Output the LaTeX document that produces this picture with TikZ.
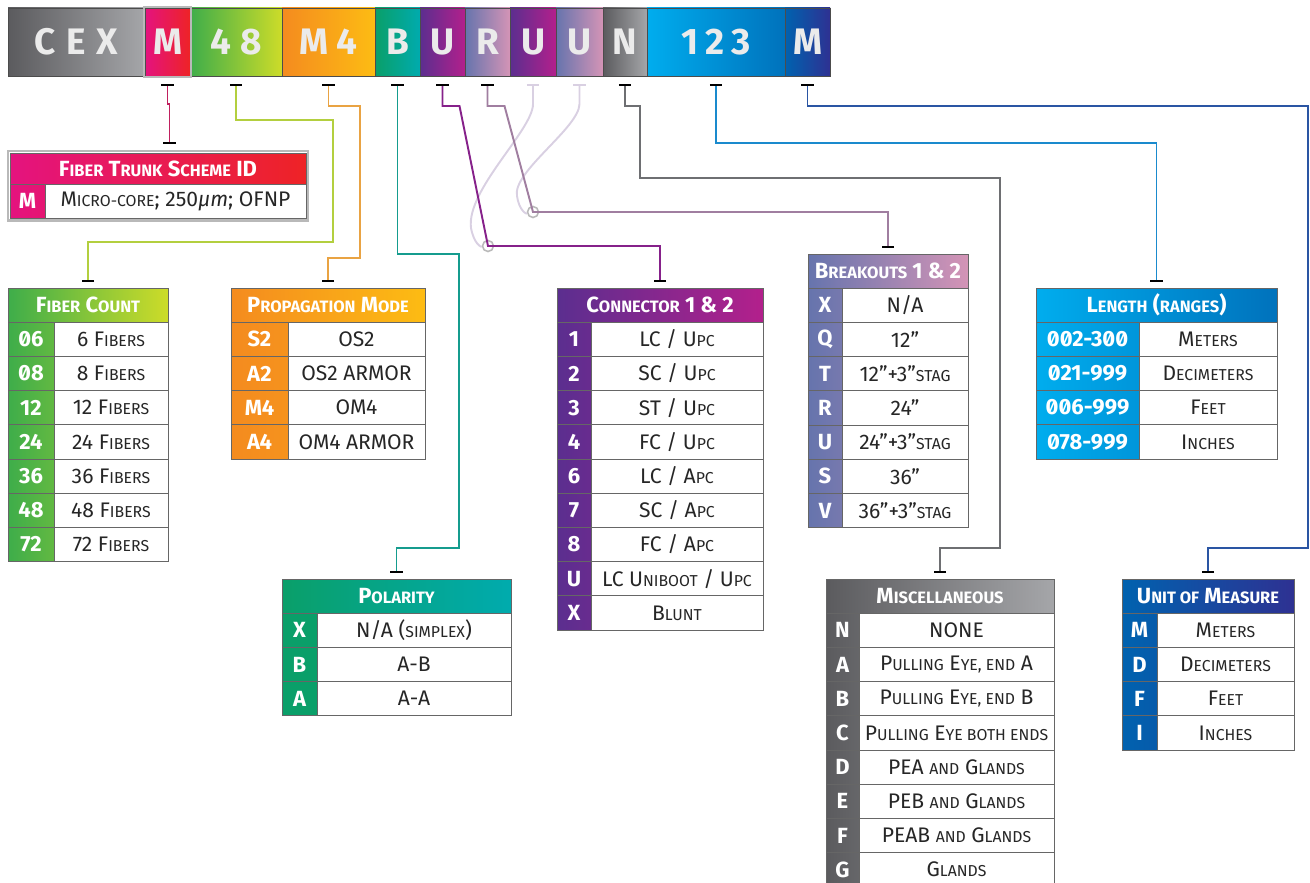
\documentclass[tikz,border=0pt]{standalone}
\usepackage{fontspec}
\setmainfont{Fira Sans}
\newfontfamily\keyfont[Numbers=SlashedZero]{Fira Sans}
\usetikzlibrary{arrows.meta,positioning,calc}

\definecolor{cexL}{HTML}{5B5B5E}
\definecolor{cexR}{HTML}{A5A6A9}
\definecolor{magL}{HTML}{E4137F}
\definecolor{magR}{HTML}{EE2326}
\definecolor{grnL}{HTML}{3EAD4A}
\definecolor{grnR}{HTML}{CDDC29}
\definecolor{orgL}{HTML}{F48B1F}
\definecolor{orgR}{HTML}{FDBC13}
\definecolor{tealL}{HTML}{0A9F69}
\definecolor{tealR}{HTML}{00ABAE}
\definecolor{purL}{HTML}{5B2E8F}
\definecolor{purR}{HTML}{B3208C}
\definecolor{mauL}{HTML}{6674AD}
\definecolor{mauR}{HTML}{D494B6}
\definecolor{cyaL}{HTML}{00ADEE}
\definecolor{cyaR}{HTML}{0072BC}
\definecolor{navL}{HTML}{0062AF}
\definecolor{navR}{HTML}{2E3192}
\definecolor{lnM}{HTML}{C0205F}
\definecolor{ln48}{HTML}{B3CF3F}
\definecolor{lnM4}{HTML}{E9A343}
\definecolor{lnB}{HTML}{159C8E}
\definecolor{lnU}{HTML}{86218A}
\definecolor{lnR}{HTML}{A07EA0}
\definecolor{lnFade}{HTML}{D9D0E2}
\definecolor{lnN}{HTML}{6E6F72}
\definecolor{ln123}{HTML}{1A8ACD}
\definecolor{lnM2}{HTML}{2A55A3}

\newcommand*\pxu{0.02cm}
\newcommand\lc[1]{{\fontsize{0.75em}{1em}\selectfont #1}}

\tikzset{
  segbox/.style 2 args={minimum height=68*\pxu, inner sep=0pt, outer sep=0pt, draw=black!70, line width=0.4pt,
    left color=#1, right color=#2, text=white!92!black, font=\bfseries\fontsize{21}{24}\selectfont},
  hdrcell/.style 2 args={minimum height=34.2*\pxu, inner sep=0pt, outer sep=0pt, draw=black!60, line width=0.5pt,
    left color=#1, right color=#2, text=white, font=\bfseries\fontsize{12.5}{14}\selectfont},
  keycell/.style 2 args={anchor=north west, minimum height=34.2*\pxu, inner sep=0pt, outer sep=0pt, draw=black!60,
    line width=0.5pt, left color=#1, right color=#2, text=white, font=\keyfont\bfseries\fontsize{12.5}{14}\selectfont},
  valcell/.style={anchor=north west, minimum height=34.2*\pxu, inner sep=0pt, outer sep=0pt, draw=black!60,
    line width=0.5pt, fill=white, text=black!85, font=\fontsize{12}{14}\selectfont},
  hatch/.style={draw=gray!55, line width=1.5pt},
  lead/.style={draw=#1, line width=1.1pt, {Bar[width=7pt,line width=1.3pt,color=black]}-{Bar[width=7pt,line width=1.3pt,color=black]}},
  fade/.style={draw=#1, line width=1.1pt, {Bar[width=7pt,line width=1.3pt,color=#1]}-},
  jointring/.style={circle, draw=gray!55, line width=0.9pt, inner sep=0pt, minimum size=11*\pxu}
}

\begin{document}
\begin{tikzpicture}[x=\pxu, y=-\pxu]
\useasboundingbox (0,0) rectangle (1310,882);

% part number bar
\node[segbox={cexL}{cexR}, minimum width=137*\pxu] (sCEX) at (76.5,42) {C\hspace{6pt}E\hspace{6pt}X};
\node[segbox={magL}{magR}, minimum width=45*\pxu, right=0pt of sCEX] (sM) {M};
\node[segbox={grnL}{grnR}, minimum width=92*\pxu, right=0pt of sM] (s48) {4\hspace{5pt}8};
\node[segbox={orgL}{orgR}, minimum width=93*\pxu, right=0pt of s48] (sM4) {M\hspace{5pt}4};
\node[segbox={tealL}{tealR}, minimum width=45*\pxu, right=0pt of sM4] (sB) {B};
\node[segbox={purL}{purR}, minimum width=45*\pxu, right=0pt of sB] (sU1) {U};
\node[segbox={mauL}{mauR}, minimum width=45*\pxu, right=0pt of sU1] (sR) {R};
\node[segbox={purL}{purR}, minimum width=46*\pxu, right=0pt of sR] (sU2) {U};
\node[segbox={mauL}{mauR}, minimum width=47*\pxu, right=0pt of sU2] (sU3) {U};
\node[segbox={cexL}{cexR}, minimum width=44*\pxu, right=0pt of sU3] (sN) {N};
\node[segbox={cyaL}{cyaR}, minimum width=138*\pxu, right=0pt of sN] (s123) {1\hspace{4pt}2\hspace{4pt}3};
\node[segbox={navL}{navR}, minimum width=45*\pxu, right=0pt of s123] (sM2) {M};
\draw[hatch] ($(sM.north west)+(-1,-1)$) rectangle ($(sM.south east)+(1,1)$);

% fiber trunk scheme id
\node[hdrcell={magL}{magR}, minimum width=296*\pxu, minimum height=31*\pxu] (ts) at (158,168.5) {F\lc{IBER} T\lc{RUNK} S\lc{CHEME} ID};
\node[keycell={magL}{magL!85!magR}, minimum width=35*\pxu] (ts-k) at (ts.south west) {M};
\node[valcell, minimum width=261*\pxu] (ts-v) at (ts-k.north east) {M\lc{ICRO-CORE}; 250\textit{µm}; OFNP};
\draw[hatch] ($(ts.north west)+(-2,-2)$) rectangle ($(ts-v.south east)+(2,2)$);

% fiber count
\node[hdrcell={grnL}{grnR}, minimum width=160*\pxu] (fc) at (88,305.1) {F\lc{IBER} C\lc{OUNT}};
\foreach \k/\v [count=\i] in {06/{6 F\lc{IBERS}}, 08/{8 F\lc{IBERS}}, 12/{12 F\lc{IBERS}}, 24/{24 F\lc{IBERS}},
    36/{36 F\lc{IBERS}}, 48/{48 F\lc{IBERS}}, 72/{72 F\lc{IBERS}}}{
  \node[keycell={grnL}{grnL!75!grnR}, minimum width=46*\pxu] (fc-k\i) at ($(fc.south west)+(0,34.2*\i-34.2)$) {\k};
  \node[valcell, minimum width=114*\pxu] (fc-v\i) at (fc-k\i.north east) {\v};
}

% propagation mode
\node[hdrcell={orgL}{orgR}, minimum width=194*\pxu] (pm) at (328,305.1) {P\lc{ROPAGATION} M\lc{ODE}};
\foreach \k/\v [count=\i] in {S2/OS2, A2/{OS2 ARMOR}, M4/OM4, A4/{OM4 ARMOR}}{
  \node[keycell={orgL}{orgL!85!orgR}, minimum width=57*\pxu] (pm-k\i) at ($(pm.south west)+(0,34.2*\i-34.2)$) {\k};
  \node[valcell, minimum width=137*\pxu] (pm-v\i) at (pm-k\i.north east) {\v};
}

% polarity
\node[hdrcell={tealL}{tealR}, minimum width=229*\pxu] (po) at (396.5,596.1) {P\lc{OLARITY}};
\foreach \k/\v [count=\i] in {X/{N/A (\lc{SIMPLEX})}, B/{A-B}, A/{A-A}}{
  \node[keycell={tealL}{tealL}, minimum width=35*\pxu] (po-k\i) at ($(po.south west)+(0,34.2*\i-34.2)$) {\k};
  \node[valcell, minimum width=194*\pxu] (po-v\i) at (po-k\i.north east) {\v};
}

% connector 1 & 2
\node[hdrcell={purL}{purR}, minimum width=206*\pxu] (cn) at (660,305.1) {C\lc{ONNECTOR} 1 \& 2};
\foreach \k/\v [count=\i] in {1/{LC / U\lc{PC}}, 2/{SC / U\lc{PC}}, 3/{ST / U\lc{PC}}, 4/{FC / U\lc{PC}},
    6/{LC / A\lc{PC}}, 7/{SC / A\lc{PC}}, 8/{FC / A\lc{PC}}, U/{LC U\lc{NIBOOT} / U\lc{PC}}, X/{B\lc{LUNT}}}{
  \node[keycell={purL}{purL!85!purR}, minimum width=34*\pxu] (cn-k\i) at ($(cn.south west)+(0,34.2*\i-34.2)$) {\k};
  \node[valcell, minimum width=172*\pxu] (cn-v\i) at (cn-k\i.north east) {\v};
}

% breakouts 1 & 2
\node[hdrcell={mauL}{mauR}, minimum width=160*\pxu] (bo) at (888,271.1) {B\lc{REAKOUTS} 1 \& 2};
\foreach \k/\v [count=\i] in {X/{N/A}, Q/{12”}, T/{12”+3”\lc{STAG}}, R/{24”}, U/{24”+3”\lc{STAG}}, S/{36”}, V/{36”+3”\lc{STAG}}}{
  \node[keycell={mauL}{mauL!85!mauR}, minimum width=34*\pxu] (bo-k\i) at ($(bo.south west)+(0,34.2*\i-34.2)$) {\k};
  \node[valcell, minimum width=126*\pxu] (bo-v\i) at (bo-k\i.north east) {\v};
}

% length
\node[hdrcell={cyaL}{cyaR}, minimum width=241*\pxu] (le) at (1156.5,305.1) {L\lc{ENGTH} (\lc{RANGES})};
\foreach \k/\v [count=\i] in {002-300/{M\lc{ETERS}}, 021-999/{D\lc{ECIMETERS}}, 006-999/{F\lc{EET}}, 078-999/{I\lc{NCHES}}}{
  \node[keycell={cyaL}{cyaL!60!cyaR}, minimum width=103*\pxu] (le-k\i) at ($(le.south west)+(0,34.2*\i-34.2)$) {\k};
  \node[valcell, minimum width=138*\pxu] (le-v\i) at (le-k\i.north east) {\v};
}

% miscellaneous
\node[hdrcell={cexL}{cexR}, minimum width=228*\pxu] (mi) at (940,596.1) {M\lc{ISCELLANEOUS}};
\foreach \k/\v [count=\i] in {N/NONE, A/{P\lc{ULLING} E\lc{YE, END} A}, B/{P\lc{ULLING} E\lc{YE, END} B},
    C/{P\lc{ULLING} E\lc{YE BOTH ENDS}}, D/{PEA \lc{AND} G\lc{LANDS}}, E/{PEB \lc{AND} G\lc{LANDS}},
    F/{PEAB \lc{AND} G\lc{LANDS}}, G/{G\lc{LANDS}}}{
  \node[keycell={cexL}{cexL!85!cexR}, minimum width=33*\pxu] (mi-k\i) at ($(mi.south west)+(0,34.2*\i-34.2)$) {\k};
  \node[valcell, minimum width=195*\pxu] (mi-v\i) at (mi-k\i.north east) {\v};
}

% unit of measure
\node[hdrcell={navL}{navR}, minimum width=172*\pxu] (um) at (1208,596.1) {U\lc{NIT OF} M\lc{EASURE}};
\foreach \k/\v [count=\i] in {M/{M\lc{ETERS}}, D/{D\lc{ECIMETERS}}, F/{F\lc{EET}}, I/{I\lc{NCHES}}}{
  \node[keycell={navL}{navL!85!navR}, minimum width=35*\pxu] (um-k\i) at ($(um.south west)+(0,34.2*\i-34.2)$) {\k};
  \node[valcell, minimum width=137*\pxu] (um-v\i) at (um-k\i.north east) {\v};
}

% leads from the bar to the tables
\node[jointring] (j1) at (488,246) {};
\node[jointring] (j2) at (533,212) {};
\draw[fade=lnFade] ($(sU2.south)+(0,8)$) -- ++(0,20) .. controls (533,130) and (466,190) .. (471,228) .. controls (474,244) and (481,247) .. (j1);
\draw[fade=lnFade] ($(sU3.south)+(0,8)$) -- ++(0,20) .. controls (579,128) and (512,172) .. (517,196) .. controls (519,210) and (526,214) .. (j2);
\draw[lead=lnM] ($(sM.south)+(0,8)$) -- ++(0,20) -- ++(2,0) -- ++(0,40);
\draw[lead=ln48] ($(s48.south)+(0,8)$) -- ++(0,36) -| (333,242) -| ($(fc.north)+(0,-6)$);
\draw[lead=lnM4] ($(sM4.south)+(0,8)$) -- ++(0,22) -| (360,258) -| ($(pm.north)+(0,-6)$);
\draw[lead=lnB] ($(sB.south)+(0,8)$) -- ++(0,170) -| (459,548) -| ($(po.north)+(0,-6)$);
\draw[lead=lnU] ($(sU1.south)+(0,8)$) -- ++(0,22) -- ++(17,0) -- (j1.center) -| ($(cn.north)+(0,-6)$);
\draw[lead=lnR] ($(sR.south)+(0,8)$) -- ++(0,22) -- ++(17,0) -- (j2.center) -| ($(bo.north)+(0,-6)$);
\draw[lead=lnN] ($(sN.south)+(0,8)$) -- ++(0,22) -| (640,178) -| (1000,548) -| ($(mi.north)+(0,-6)$);
\draw[lead=ln123] ($(s123.south)+(0,8)$) -- ++(0,59) -| ($(le.north)+(0,-6)$);
\draw[lead=lnM2] ($(sM2.south)+(0,8)$) -- ++(0,22) -| (1308,548) -| ($(um.north)+(0,-6)$);
\end{tikzpicture}
\end{document}
